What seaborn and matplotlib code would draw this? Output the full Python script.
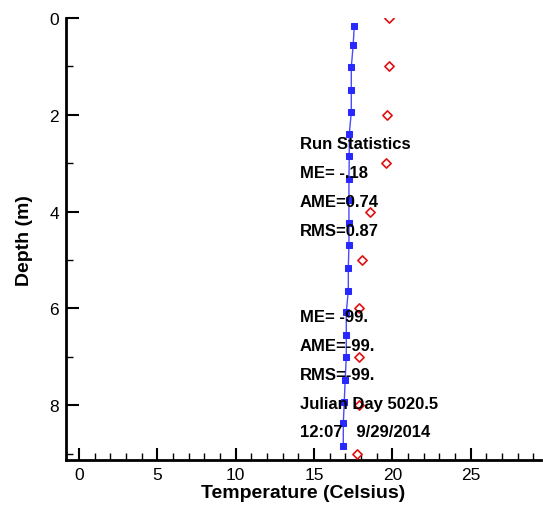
import numpy as np
import pandas as pd
import seaborn as sns
import matplotlib.pyplot as plt
from matplotlib.ticker import MultipleLocator

# model profile (blue squares)
model_depth = [0.17, 0.56, 1.02, 1.48, 1.95, 2.40, 2.86, 3.33, 3.77, 4.24,
               4.69, 5.17, 5.63, 6.08, 6.54, 7.01, 7.47, 7.94, 8.37, 8.84]
model_temp = [17.57, 17.50, 17.38, 17.38, 17.38, 17.25, 17.25, 17.23, 17.23, 17.23,
              17.23, 17.19, 17.19, 17.06, 17.06, 17.06, 16.99, 16.93, 16.87, 16.87]

# observed profile (red diamonds)
obs_depth = [0, 1, 2, 3, 4, 5, 6, 7, 8, 9]
obs_temp = [19.76, 19.78, 19.67, 19.59, 18.57, 18.08, 17.89, 17.89, 17.89, 17.76]

stats_lines = ["Run Statistics", "ME= -.18", "AME=0.74", "RMS=0.87"]
stats_y = [2.6, 3.2, 3.8, 4.4]
extra_lines = ["ME= -99.", "AME=-99.", "RMS=-99.", "Julian Day 5020.5", "12:07   9/29/2014"]
extra_y = [6.17, 6.77, 7.37, 7.96, 8.55]

sns.set_style("white")
plt.rcParams['font.family'] = ['Liberation Sans', 'DejaVu Sans']
plt.rcParams.update({'text.color': 'black', 'axes.labelcolor': 'black',
                     'xtick.color': 'black', 'ytick.color': 'black'})

fig = plt.figure(figsize=(5.43, 5.06), dpi=100)
ax = fig.add_axes([0.1215, 0.088, 0.8743, 0.8745])

df_model = pd.DataFrame({'Temp': model_temp, 'Depth': model_depth})
df_obs = pd.DataFrame({'Temp': obs_temp, 'Depth': obs_depth})

sns.lineplot(data=df_model, x='Temp', y='Depth', orient='y', sort=False, ax=ax,
             color='#4a4aff', linewidth=1.0, marker='s', markersize=5,
             markerfacecolor='#2828ff', markeredgecolor='#2828ff')
sns.scatterplot(data=df_obs, x='Temp', y='Depth', ax=ax, marker='D', s=22,
                facecolor='white', edgecolor='#e01010', linewidth=1.2, zorder=3)

for txt, yy in zip(stats_lines + extra_lines, stats_y + extra_y):
    ax.text(14.1, yy, txt, fontsize=12, fontweight='bold', va='center', ha='left',
            color='black')

ax.set_xlim(-0.83, 29.47)
ax.set_ylim(9.14, 0)
ax.xaxis.set_major_locator(MultipleLocator(5))
ax.xaxis.set_minor_locator(MultipleLocator(1))
ax.yaxis.set_major_locator(MultipleLocator(2))
ax.yaxis.set_minor_locator(MultipleLocator(1))
ax.tick_params(which='major', direction='in', length=9, width=1.5, labelsize=12.5,
               bottom=True, left=True, pad=5, colors='black')
ax.tick_params(which='minor', direction='in', length=5, width=1.0, bottom=True, left=True,
               colors='black')

for s in ['top', 'right']:
    ax.spines[s].set_visible(False)
for s in ['left', 'bottom']:
    ax.spines[s].set_linewidth(2)
    ax.spines[s].set_color('black')

ax.set_xlabel('Temperature (Celsius)', fontsize=14, fontweight='bold', labelpad=1)
ax.set_ylabel('Depth (m)', fontsize=14, fontweight='bold', labelpad=12)

fig.savefig('out.png', dpi=100)
